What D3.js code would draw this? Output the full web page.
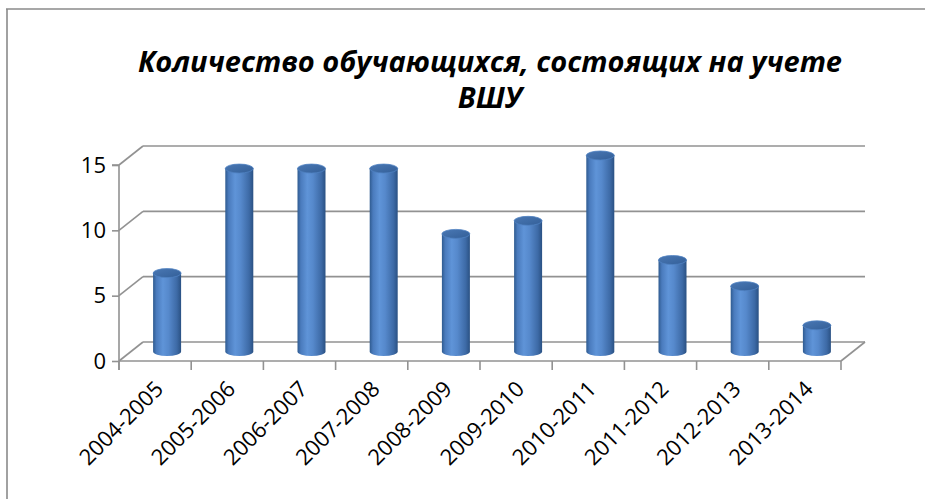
<!DOCTYPE html>
<html><head><meta charset="utf-8">
<script src="https://cdn.jsdelivr.net/npm/d3@7/dist/d3.min.js"></script>
<style>html,body{margin:0;padding:0;background:#fff;overflow:hidden}</style>
</head><body>
<svg id="c" width="925" height="499"></svg>
<script>
const categories = ["2004-2005","2005-2006","2006-2007","2007-2008","2008-2009","2009-2010","2010-2011","2011-2012","2012-2013","2013-2014"];
const values = [6,14,14,14,9,10,15,7,5,2];
const yTicks = [0,5,10,15];
const titleLines = ["Количество обучающихся, состоящих на учете","ВШУ"];

(function(){
const svg = d3.select("#c");
const W = 925, H = 499;
const pLeft = 119, pRight = 841, pTop = 165, pBottom = 361;
const dx = 24, dy = -19;
const x = d3.scaleBand().domain(categories).range([pLeft, pRight]).padding(0);
const y = d3.scaleLinear().domain([0, 15]).range([pBottom, pTop]);

svg.append("line").attr("x1", 6).attr("y1", 9).attr("x2", W).attr("y2", 9).attr("stroke", "#8a8a8a").attr("stroke-width", 1.6);
svg.append("line").attr("x1", 7).attr("y1", 9).attr("x2", 7).attr("y2", H).attr("stroke", "#8a8a8a").attr("stroke-width", 1.6);

const title = svg.append("g");
const fs = 29;
titleLines.forEach((t, i) => {
  title.append("text").attr("x", 490).attr("y", 72 + i * 36)
    .attr("text-anchor", "middle")
    .attr("font-family", "Open Sans").attr("font-weight", "bold").attr("font-style", "italic")
    .attr("font-size", fs).attr("fill", "#000").text(t);
});

const grid = "#929292";
const g = svg.append("g");
yTicks.forEach(t => {
  g.append("line").attr("x1", pLeft).attr("y1", y(t)).attr("x2", pLeft + dx).attr("y2", y(t) + dy)
    .attr("stroke", grid).attr("stroke-width", 1.6);
  g.append("line").attr("x1", pLeft + dx).attr("y1", y(t) + dy).attr("x2", pRight + dx).attr("y2", y(t) + dy)
    .attr("stroke", grid).attr("stroke-width", 1.6);
});
g.append("line").attr("x1", pLeft).attr("y1", pBottom).attr("x2", pRight).attr("y2", pBottom).attr("stroke", grid).attr("stroke-width", 1.6);
g.append("line").attr("x1", pRight).attr("y1", pBottom).attr("x2", pRight + dx).attr("y2", pBottom + dy).attr("stroke", grid).attr("stroke-width", 1.6);

const yAxis = d3.axisLeft(y).tickValues(yTicks).tickSize(7).tickPadding(6);
const ya = svg.append("g").attr("transform", `translate(${pLeft},0)`).call(yAxis);
ya.select(".domain").attr("stroke", grid).attr("stroke-width", 1.6).attr("d", `M-7,${pTop}H0V${pBottom + 9}`);
ya.selectAll(".tick line").attr("stroke", grid).attr("stroke-width", 1.6);
ya.selectAll("text").attr("font-family", "Open Sans").attr("font-size", 22).attr("fill", "#000");

const xa = svg.append("g").attr("transform", `translate(0,${pBottom})`);
const tickPos = categories.map(c => x(c)).concat([pRight]);
xa.selectAll("line.t").data(tickPos).join("line")
  .attr("x1", d => d).attr("x2", d => d).attr("y1", 0).attr("y2", 9)
  .attr("stroke", grid).attr("stroke-width", 1.6);
xa.selectAll("text").data(categories).join("text")
  .attr("transform", d => `translate(${x(d) + x.bandwidth() / 2 + 4},${24}) rotate(-45)`)
  .attr("text-anchor", "end").attr("dy", "0.35em")
  .attr("font-family", "Open Sans").attr("font-size", 22).attr("fill", "#000")
  .text(d => d);

const defs = svg.append("defs");
const grad = defs.append("linearGradient").attr("id", "body").attr("x1", "0%").attr("x2", "100%").attr("y1", "0%").attr("y2", "0%");
[["0%", "#2f5b90"], ["12%", "#4a7bbd"], ["35%", "#5f94d8"], ["55%", "#5689cc"], ["85%", "#3d6aa6"], ["100%", "#2a5183"]]
  .forEach(([o, c]) => grad.append("stop").attr("offset", o).attr("stop-color", c));
const tgrad = defs.append("linearGradient").attr("id", "topg").attr("x1", "0%").attr("x2", "100%").attr("y1", "0%").attr("y2", "100%");
[["0%", "#4a78b4"], ["100%", "#335f98"]].forEach(([o, c]) => tgrad.append("stop").attr("offset", o).attr("stop-color", c));

const rx = 14, ry = 4.5;
const bars = svg.append("g");
categories.forEach((c, i) => {
  const cx = x(c) + x.bandwidth() / 2 + dx / 2;
  const yb = y(0) + dy / 2;
  const yt = y(values[i]) + dy / 2;
  bars.append("path")
    .attr("d", `M${cx - rx},${yt} L${cx - rx},${yb} A${rx},${ry} 0 0 0 ${cx + rx},${yb} L${cx + rx},${yt} Z`)
    .attr("fill", "url(#body)");
  bars.append("ellipse").attr("cx", cx).attr("cy", yt).attr("rx", rx).attr("ry", ry)
    .attr("fill", "url(#topg)").attr("stroke", "#4f82c2").attr("stroke-width", 0.8);
});
})();
</script>
</body></html>
